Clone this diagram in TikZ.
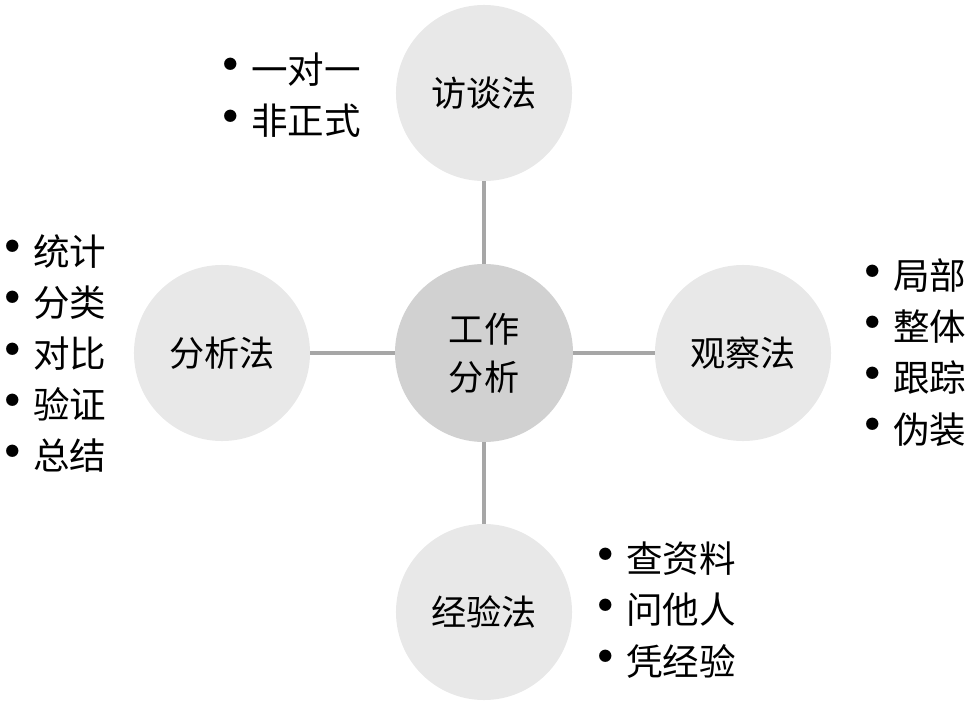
\documentclass[tikz,border=0pt]{standalone}
\usepackage{fontspec}
\setmainfont{Noto Sans CJK SC}
\usetikzlibrary{positioning}
\newcommand{\itm}{\makebox[0.5cm][c]{\raisebox{-0.1em}[0pt][0pt]{\scalebox{1.6}{•}}}\hspace{0.27cm}}

\begin{document}
\begin{tikzpicture}[x=0.025cm,y=-0.025cm,semithick,
    method/.style={shape=circle,fill=black!9,minimum size=4.4cm,inner sep=0pt,font=\fontsize{25}{34}\selectfont},
    core/.style={shape=circle,fill=black!18,minimum size=4.45cm,inner sep=0pt,align=center,font=\fontsize{25}{34}\selectfont},
    points/.style={anchor=west,inner sep=0pt,align=left,font=\fontsize{26}{36.4}\selectfont},
    link/.style={draw=black!35,line width=2.2pt}]
            \useasboundingbox (0,0) rectangle (968,704);
            \node[core](Core)at(484, 353){工作\\分析};
            \node[method](Talk)at(484, 93){访谈法};
            \node[method](Anal)at(222, 353){分析法};
            \node[method](Obs)at(743, 353){观察法};
            \node[method](Exp)at(484, 612){经验法};
            \node[points](TalkPts)at(220, 95){\itm 一对一\\\itm 非正式};
            \node[points](AnalPts)at(2, 353.5){\itm 统计\\\itm 分类\\\itm 对比\\\itm 验证\\\itm 总结};
            \node[points](ObsPts)at(862, 352.5){\itm 局部\\\itm 整体\\\itm 跟踪\\\itm 伪装};
            \node[points](ExpPts)at(595, 610){\itm 查资料\\\itm 问他人\\\itm 凭经验};
            \path[link](Core) edge (Talk)
            (Core) edge (Anal)
            (Core) edge (Obs)
            (Core) edge (Exp);
        \end{tikzpicture}
\end{document}
